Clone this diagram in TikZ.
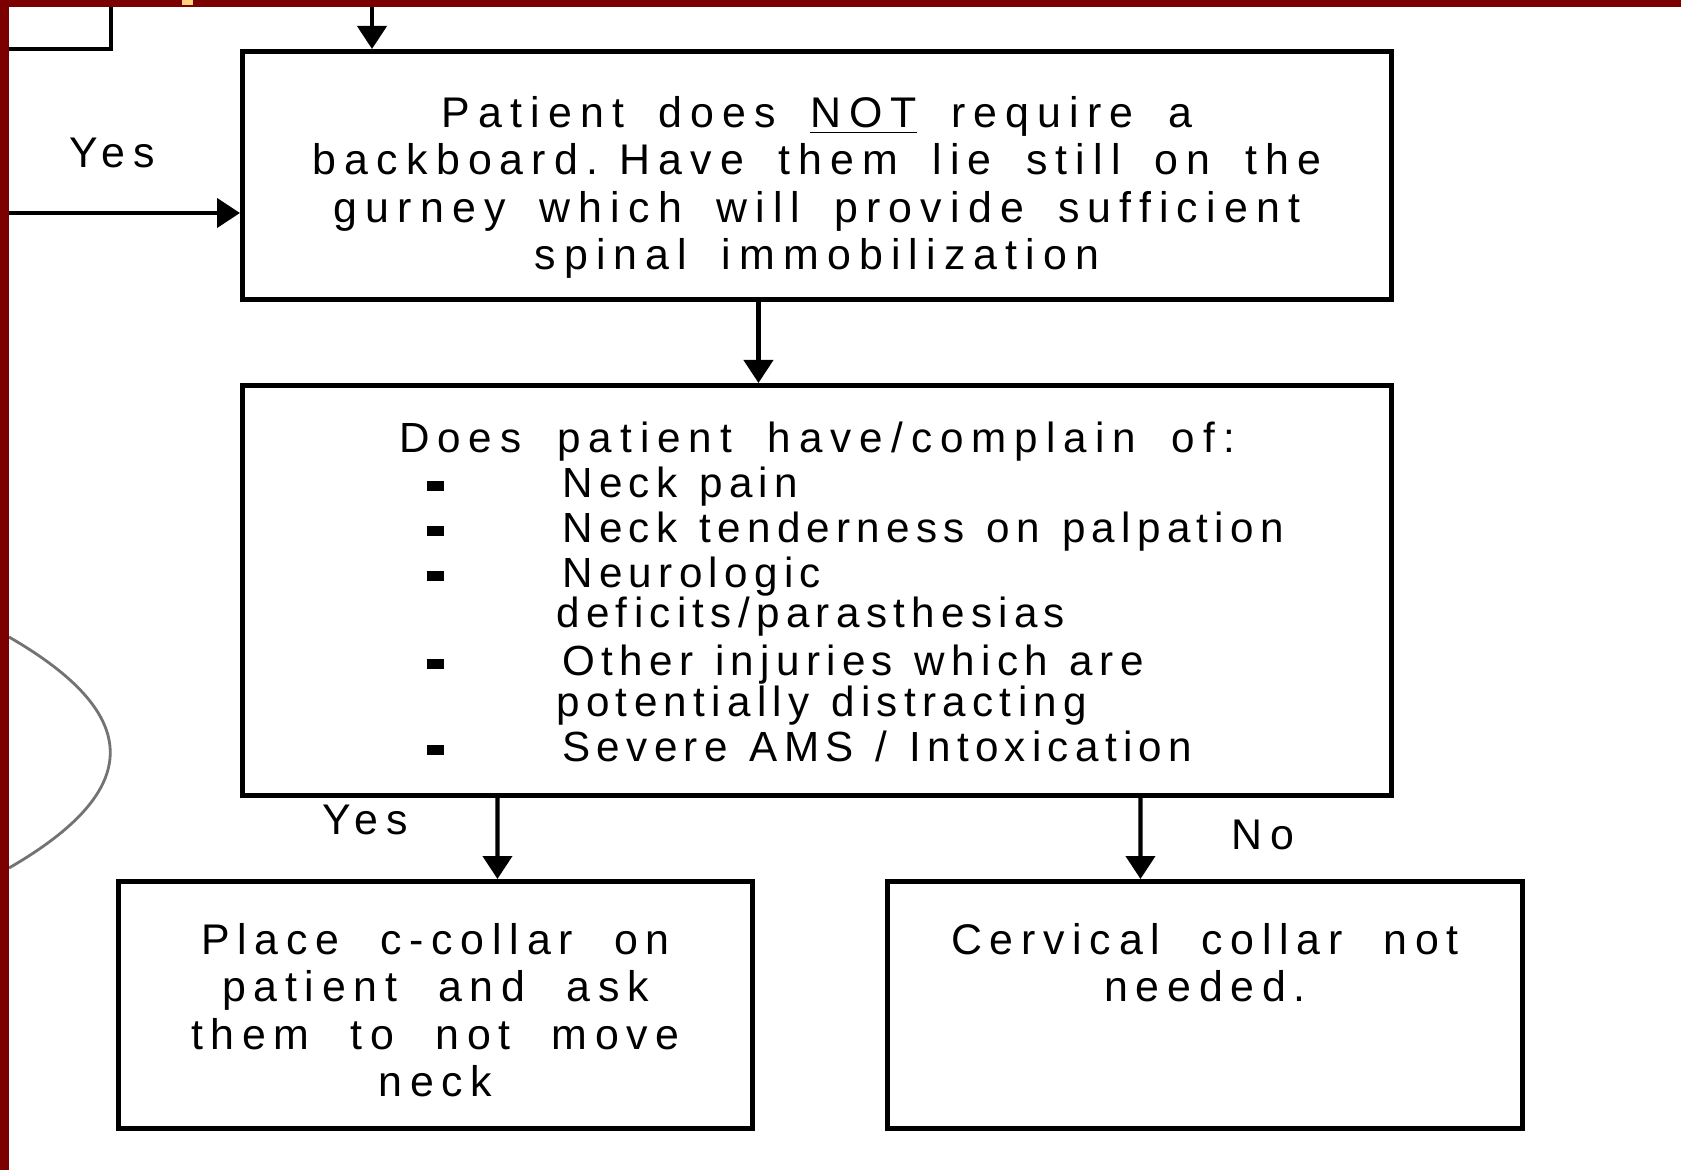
\documentclass[tikz,border=0pt]{standalone}
\usepackage{fontspec}
\setmainfont{Liberation Sans}[LetterSpace=18]
\usetikzlibrary{arrows.meta}
\definecolor{edgered}{RGB}{125,0,0}
\definecolor{speck}{RGB}{255,210,127}
\newcommand\bul{\hspace*{1.85cm}\rule[0.06cm]{0.17cm}{0.1cm}\hspace*{1.18cm}}
\newcommand\gap[1]{\spaceskip #1em\relax}
\begin{document}
\begin{tikzpicture}[font=\fontsize{12.2}{13.5}\selectfont,
      box/.style={draw, line width=1.4pt, inner sep=0pt, anchor=north west, align=center,
                  execute at begin node=\gap{0.8}},
      wide/.style={box, execute at begin node=\gap{0.96}},
      arr/.style={line width=1.2pt, -{Triangle[width=2.9mm,length=2.3mm]}},
      lbl/.style={inner sep=0pt, anchor=base}]
    % 1 unit = 100 px of the 1681 x 1170 frame, y runs downward as negative
    \useasboundingbox[fill=white] (0,0) rectangle (16.81,-11.70);
    \draw[line width=1.4pt] (0,-0.49) -- (1.11,-0.49) -- (1.11,0);
    \draw[black!55, line width=0.8pt] (0.09,-6.37) .. controls (1.44,-7.15) and (1.44,-7.90) .. (0.09,-8.68);
    \node[box, text width=11.49cm, text height=0.76cm, text depth=1.72cm,
          font=\fontsize{12.2}{13.5}\selectfont\addfontfeatures{LetterSpace=19}] (nobb) at (2.40,-0.49)
      {Patient does \underline{NOT} require a\\
       backboard. Have them lie still on the\\
       gurney which will provide sufficient\\
       spinal immobilization};
    \node[box, align=left, text width=11.49cm, text height=0.67cm, text depth=3.43cm,
          font=\fontsize{12}{12.8}\selectfont\addfontfeatures{LetterSpace=15},
          execute at begin node=\gap{0.52}] (ask) at (2.40,-3.83)
      {\makebox[11.49cm]{\addfontfeatures{LetterSpace=19}\gap{0.85}Does patient have/complain of:}\\
       \bul Neck pain\\
       \bul Neck tenderness on palpation\\
       \bul Neurologic\\[-0.5mm]
       \hspace*{3.14cm}deficits/parasthesias\\[0.3mm]
       \bul Other injuries which are\\[-0.4mm]
       \hspace*{3.14cm}potentially distracting\\
       \bul Severe AMS / Intoxication};
    \node[wide, text width=6.34cm, text height=0.73cm, text depth=1.74cm] (collar) at (1.16,-8.79)
      {Place c-collar on\\ patient and ask\\ them to not move\\ neck};
    \node[wide, text width=6.35cm, text height=0.73cm, text depth=1.74cm] (nocollar) at (8.85,-8.79)
      {Cervical collar not\\ needed.};
    \coordinate (fromtop) at (3.72,-0.07);
    \coordinate (fromleft) at (0.09,-2.13);
    \draw[arr] (fromtop) -- (fromtop |- nobb.north);
    \draw[arr] (fromleft) -- (fromleft -| nobb.west);
    \draw[arr] ([xshift=-5.85mm]nobb.south) -- ([xshift=-5.85mm]ask.north);
    \draw[arr] ([xshift=-31.95mm]ask.south) -- ([xshift=6.2mm]collar.north);
    \draw[arr] ([xshift=32.35mm]ask.south) -- ([xshift=-6.45mm]nocollar.north);
    \node[lbl] (yestop) at (1.12,-1.68) {Yes};
    \node[lbl] (yesbot) at (3.65,-8.34) {Yes};
    \node[lbl] (nobot) at (12.63,-8.49) {No};
    \fill[edgered] (0,0) rectangle (0.09,-11.70);
    \fill[edgered] (0,0) rectangle (16.81,-0.07);
    \fill[speck] (1.82,0) rectangle (1.93,-0.05);
  \end{tikzpicture}
\end{document}
